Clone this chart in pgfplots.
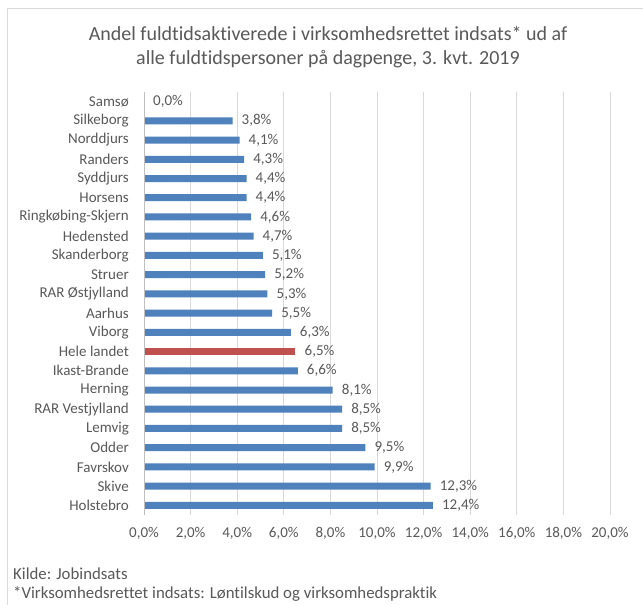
\documentclass[border=0pt]{standalone}
\usepackage{fontspec}
\setmainfont{Carlito}[Ligatures=NoCommon]
\usepackage{pgfplots}
\pgfplotsset{compat=1.18}
\definecolor{barblue}{HTML}{4F81BD}
\definecolor{barred}{HTML}{C0504D}
\definecolor{txtgray}{HTML}{595959}
\definecolor{gridgray}{HTML}{D9D9D9}
\definecolor{axisgray}{HTML}{BFBFBF}
\definecolor{bordergray}{HTML}{D9D9D9}
\begin{document}
\begin{tikzpicture}[x=1bp,y=1bp]
\path[use as bounding box] (0,0) rectangle (643,605);
\fill[white] (0,0) rectangle (643,605);
\draw[bordergray, line width=0.75bp] (7,0) -- (7,597) -- (650,597);
\node[anchor=base, text=txtgray, inner sep=0pt] at (328,564) {\fontsize{20bp}{24bp}\selectfont Andel fuldtidsaktiverede i virksomhedsrettet indsats* ud af};
\node[anchor=base, text=txtgray, inner sep=0pt] at (328,540) {\fontsize{20bp}{24bp}\selectfont alle fuldtidspersoner på dagpenge, 3. kvt. 2019};
\node[anchor=base west, text=txtgray, inner sep=0pt] at (13,25) {\fontsize{16.8bp}{19bp}\selectfont Kilde: Jobindsats};
\node[anchor=base west, text=txtgray, inner sep=0pt] at (13,6) {\fontsize{16.8bp}{19bp}\selectfont *Virksomhedsrettet indsats: Løntilskud og virksomhedspraktik};
\begin{axis}[
  at={(144bp,90bp)}, anchor=south west,
  scale only axis, width=466bp, height=423bp,
  xbar, bar width=7bp, bar shift=0pt,
  xmin=0, xmax=20, ymin=-0.5, ymax=21.5, y dir=reverse,
  xtick={0,2,...,20},
  /pgf/number format/assume math mode=true,
  xticklabel={\pgfmathprintnumber[fixed,fixed zerofill,precision=1,use comma]{\tick}\%},
  ytick={0,...,21},
  yticklabels={Samsø,Silkeborg,Norddjurs,Randers,Syddjurs,Horsens,Ringkøbing-Skjern,Hedensted,Skanderborg,Struer,RAR Østjylland,Aarhus,Viborg,Hele landet,Ikast-Brande,Herning,RAR Vestjylland,Lemvig,Odder,Favrskov,Skive,Holstebro},
  xmajorgrids, grid style={draw=gridgray, line width=0.75bp},
  axis line style={draw=none},
  major tick length=0pt,
  tick label style={font=\fontsize{15bp}{18bp}\selectfont, text=txtgray},
  xticklabel style={anchor=center, yshift=-18bp},
  yticklabel style={anchor=east, inner sep=0pt, xshift=-15bp},
  nodes near coords={\pgfmathprintnumber[fixed,fixed zerofill,precision=1,use comma]{\pgfplotspointmeta}\%},
  nodes near coords style={anchor=west, inner sep=0pt, xshift=9bp, font=\fontsize{15bp}{18bp}\selectfont, text=txtgray},
  clip=false,
]
\addplot[fill=barblue, draw=none] coordinates {
(0.0,0) (3.8,1) (4.1,2) (4.3,3) (4.4,4) (4.4,5) (4.6,6) (4.7,7) (5.1,8) (5.2,9) (5.3,10) (5.5,11) (6.3,12)
(6.6,14) (8.1,15) (8.5,16) (8.5,17) (9.5,18) (9.9,19) (12.3,20) (12.4,21)};
\addplot[fill=barred, draw=none] coordinates {(6.5,13)};
\draw[axisgray, line width=0.75bp] (axis cs:0,-0.5) -- (axis cs:0,21.5);
\end{axis}
\end{tikzpicture}
\end{document}
